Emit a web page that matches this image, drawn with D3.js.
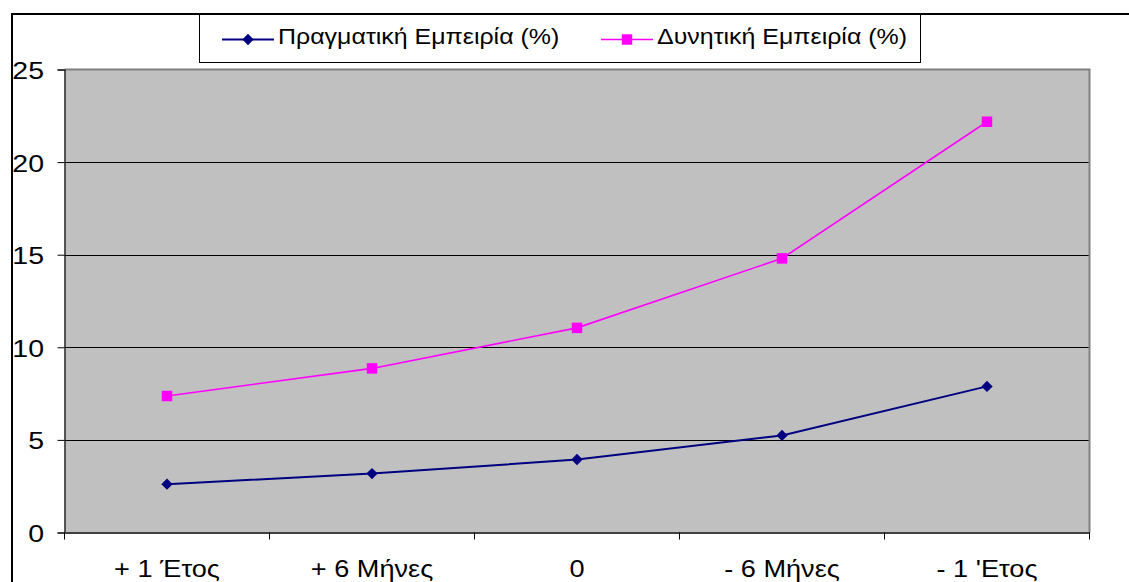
<!DOCTYPE html>
<html><head><meta charset="utf-8">
<script src="https://cdn.jsdelivr.net/npm/d3@7"></script>
<style>html,body{margin:0;padding:0;background:#fff;overflow:hidden}</style>
</head><body>
<svg id="c" width="1129" height="582"></svg>
<script>
const categories = ["+ 1 Έτος", "+ 6 Μήνες", "0", "- 6 Μήνες", "- 1 'Ετος"];
const actual = [2.61, 3.18, 3.94, 5.24, 7.89];      // Πραγματική Εμπειρία (%)
const potential = [7.37, 8.86, 11.05, 14.8, 22.18];  // Δυνητική Εμπειρία (%)
const yTicks = [0, 5, 10, 15, 20, 25];
const seriesNames = ["Πραγματική Εμπειρία (%)", "Δυνητική Εμπειρία (%)"];

const FONT = "'Liberation Sans', Arial, sans-serif";
const FS = 23;
const svg = d3.select("#c");

// outer chart border
svg.append("rect").attr("x", 12).attr("y", 14).attr("width", 1300).attr("height", 800)
  .attr("fill", "#fff").attr("stroke", "#000").attr("stroke-width", 2);

const L = 64.5, R = 1089.5, T = 69.5, B = 532.5;
const x = d3.scaleBand().domain(categories).range([L, R]).padding(0);
const y = d3.scaleLinear().domain([0, 25]).range([B, T]);

// plot area
svg.append("rect").attr("x", L).attr("y", T).attr("width", R - L).attr("height", B - T)
  .attr("fill", "#c0c0c0");
// gridlines
svg.append("g").selectAll("line").data(yTicks.filter(d => d > 0 && d < 25)).join("line")
  .attr("x1", L).attr("x2", R).attr("y1", d => Math.round(y(d)) + 0.5).attr("y2", d => Math.round(y(d)) + 0.5)
  .attr("stroke", "#000").attr("stroke-width", 1);
// plot border top/right
svg.append("path").attr("d", `M${L},${T}H${R}V${B}`).attr("fill", "none")
  .attr("stroke", "#808080").attr("stroke-width", 2);

// y axis
const yAxis = d3.axisLeft(y).tickValues(yTicks).tickSize(7).tickPadding(0).tickFormat(d3.format("d"));
const gy = svg.append("g").attr("transform", `translate(${L},0)`).call(yAxis);
gy.select(".domain").attr("stroke", "#000").attr("stroke-width", 1.2);
gy.selectAll(".tick line").attr("stroke", "#000");
gy.selectAll(".tick text").attr("x", null).attr("dy", null).attr("text-anchor", "end")
  .attr("font-family", FONT).attr("font-size", FS).attr("fill", "#000")
  .attr("transform", `translate(-20.5,9) scale(1.24,1)`);

// x axis (labels centered in bands, ticks at band boundaries)
const xAxis = d3.axisBottom(x).tickSize(0).tickPadding(0);
const gx = svg.append("g").attr("transform", `translate(0,${B})`).call(xAxis);
gx.select(".domain").attr("stroke", "#404040").attr("stroke-width", 2);
gx.selectAll(".tick text").attr("y", null).attr("dy", null)
  .attr("font-family", FONT).attr("font-size", FS).attr("fill", "#000")
  .attr("transform", `translate(0,44) scale(1.18,1)`);
const bounds = categories.map(c => x(c)).concat([x(categories[categories.length - 1]) + x.bandwidth()]);
gx.append("g").selectAll("line").data(bounds).join("line")
  .attr("x1", d => d).attr("x2", d => d).attr("y1", 0).attr("y2", 7)
  .attr("stroke", "#000").attr("stroke-width", 1);

// series
const cx = c => x(c) + x.bandwidth() / 2;
const line = d3.line().x((d, i) => cx(categories[i])).y(d => y(d));
svg.append("path").datum(potential).attr("d", line).attr("fill", "none")
  .attr("stroke", "#ff00ff").attr("stroke-width", 1.6);
svg.append("path").datum(actual).attr("d", line).attr("fill", "none")
  .attr("stroke", "#000080").attr("stroke-width", 2);
const sq = d3.symbol().type(d3.symbolSquare).size(110);
const dm = d3.symbol().type(d3.symbolSquare).size(64);
svg.append("g").selectAll("path").data(potential).join("path")
  .attr("d", sq).attr("fill", "#ff00ff")
  .attr("transform", (d, i) => `translate(${cx(categories[i])},${y(d)})`);
svg.append("g").selectAll("path").data(actual).join("path")
  .attr("d", dm).attr("fill", "#000080")
  .attr("transform", (d, i) => `translate(${cx(categories[i])},${y(d)}) rotate(45)`);

// legend
const lg = svg.append("g");
lg.append("rect").attr("x", 199.5).attr("y", 14).attr("width", 721).attr("height", 48.5)
  .attr("fill", "#fff").attr("stroke", "#000").attr("stroke-width", 1);
svg.append("line").attr("x1", 12).attr("x2", 1129).attr("y1", 14).attr("y2", 14)
  .attr("stroke", "#000").attr("stroke-width", 2);
const legendItems = [
  {name: seriesNames[0], color: "#000080", x0: 222, sym: "d"},
  {name: seriesNames[1], color: "#ff00ff", x0: 601, sym: "s"}
];
legendItems.forEach(it => {
  const ly = 39.5;
  lg.append("line").attr("x1", it.x0).attr("x2", it.x0 + 52).attr("y1", ly).attr("y2", ly)
    .attr("stroke", it.color).attr("stroke-width", it.sym === "d" ? 2 : 1.6);
  lg.append("path").attr("d", it.sym === "d" ? dm() : sq()).attr("fill", it.color)
    .attr("transform", `translate(${it.x0 + 26},${ly})` + (it.sym === "d" ? " rotate(45)" : ""));
  lg.append("text").attr("font-family", FONT).attr("font-size", FS).attr("fill", "#000")
    .attr("transform", `translate(${it.x0 + 56},${44}) scale(1.085,1)`).text(it.name);
});
</script>
</body></html>
